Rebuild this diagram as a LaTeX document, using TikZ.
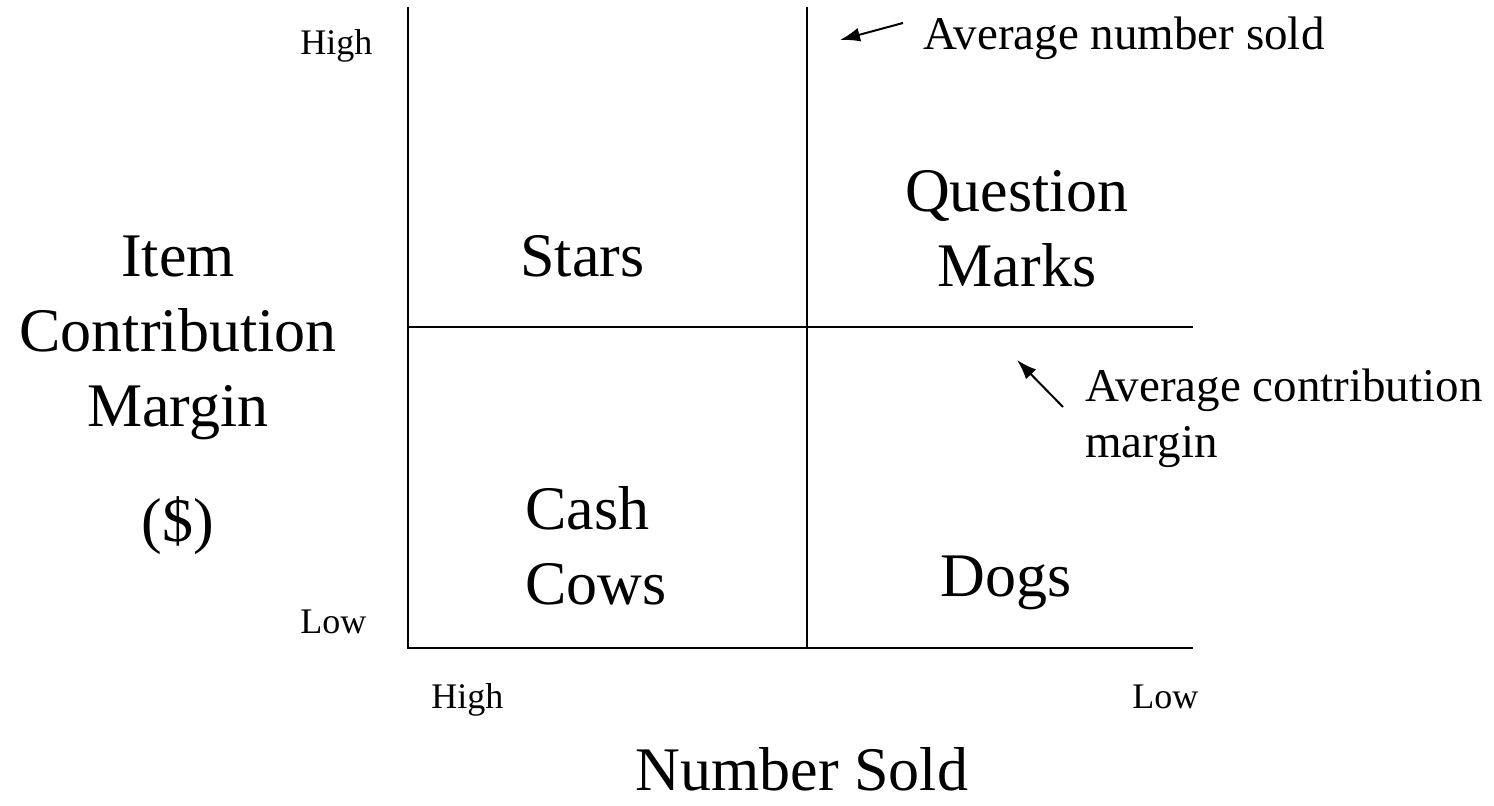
\documentclass[tikz,border=0pt]{standalone}
\usepackage{fontspec}
\setmainfont{Liberation Serif}
\usepackage{tikz}
\usetikzlibrary{arrows.meta}

\begin{document}
\begin{tikzpicture}[x=0.5pt, y=-0.5pt,
    grid/.style={line width=1pt},
    pointer/.style={line width=1pt, -{Latex[length=10pt, width=7pt]}},
    big/.style={font=\fontsize{31}{37}\selectfont, inner sep=0pt},
    mid/.style={font=\fontsize{23.5}{28}\selectfont, inner sep=0pt},
    small/.style={font=\fontsize{18}{21}\selectfont, inner sep=0pt}]
  \useasboundingbox (0,0) rectangle (1494,806);

  % axes and quadrant lines
  \coordinate (O) at (408,648);
  \coordinate (Ytop) at (408,7);
  \coordinate (Xend) at (1193,648);
  \coordinate (Vtop) at (807,7);
  \coordinate (Vbot) at (807,648);
  \coordinate (Hleft) at (408,327);
  \coordinate (Hright) at (1193,327);
  \draw[grid] (Ytop) -- (O) -- (Xend);
  \draw[grid] (Vtop) -- (Vbot);
  \draw[grid] (Hleft) -- (Hright);

  % axis ends
  \node[small, anchor=base west] (yhigh) at (300,55) {High};
  \node[small, anchor=base west] (ylow) at (300,633) {Low};
  \node[small, anchor=base west] (xhigh) at (431,708) {High};
  \node[small, anchor=base west] (xlow) at (1132,708) {Low};

  % axis titles
  \node[big, anchor=base] (item) at (178,277) {Item};
  \node[big, anchor=base] (contrib) at (178,352) {Contribution};
  \node[big, anchor=base] (margin) at (178,427) {Margin};
  \node[big, anchor=base] (dollar) at (178,542) {(\$)};
  \node[big, anchor=base] (numsold) at (802,790) {Number Sold};

  % quadrants
  \node[big, anchor=base west] (stars) at (520,277) {Stars};
  \node[big, anchor=base] (question) at (1017,212) {Question};
  \node[big, anchor=base] (marks) at (1017,287) {Marks};
  \node[big, anchor=base west] (cash) at (525,530) {Cash};
  \node[big, anchor=base west] (cows) at (525,605) {Cows};
  \node[big, anchor=base west] (dogs) at (940,597) {Dogs};

  % averages
  \node[mid, anchor=base west] (avgsold) at (923,50) {Average number sold};
  \node[mid, anchor=base west] (avgcm) at (1085,402) {Average contribution};
  \node[mid, anchor=base west] (avgcm2) at (1085,458) {margin};
  \coordinate (soldtail) at (903,23);
  \coordinate (soldtip) at (840,40);
  \coordinate (cmtail) at (1063,407);
  \coordinate (cmtip) at (1017,360);
  \draw[pointer] (soldtail) -- (soldtip);
  \draw[pointer] (cmtail) -- (cmtip);
\end{tikzpicture}
\end{document}
